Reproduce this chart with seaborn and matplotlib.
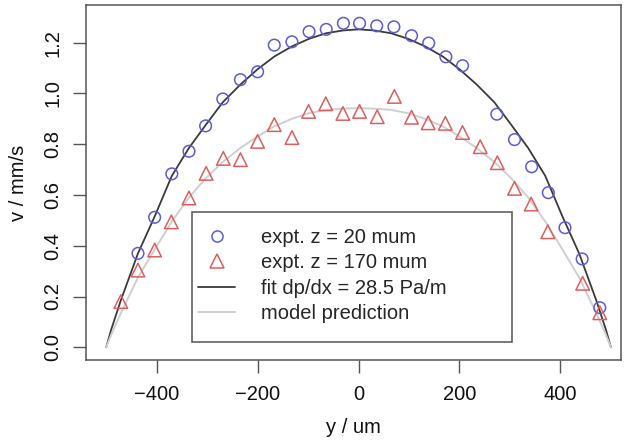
import matplotlib
matplotlib.use("Agg")
import matplotlib.pyplot as plt
from matplotlib.patches import Rectangle
from matplotlib.lines import Line2D
import seaborn as sns
import pandas as pd

# ---- data ----
y_z20 = [-437, -404, -370, -336, -303, -269, -234, -200, -167, -132, -98, -64, -30, 2,
         36, 70, 105, 139, 173, 206, 274, 309, 343, 376, 409, 443, 478]
v_z20 = [0.370, 0.512, 0.683, 0.772, 0.872, 0.978, 1.054, 1.085, 1.190, 1.203, 1.243,
         1.252, 1.276, 1.276, 1.266, 1.262, 1.227, 1.198, 1.144, 1.109, 0.918, 0.818,
         0.711, 0.609, 0.471, 0.348, 0.156]

y_z170 = [-471, -437, -404, -371, -336, -302, -268, -234, -200, -167, -132, -99, -65, -31,
          2, 37, 71, 105, 138, 172, 206, 241, 275, 309, 342, 375, 444, 478]
v_z170 = [0.180, 0.304, 0.383, 0.494, 0.588, 0.685, 0.744, 0.739, 0.811, 0.877, 0.826,
          0.929, 0.959, 0.921, 0.929, 0.908, 0.988, 0.906, 0.884, 0.882, 0.846, 0.790,
          0.727, 0.626, 0.564, 0.455, 0.252, 0.136]

y_curve = [-500, -490, -471, -437, -404, -370, -336, -303, -269, -234, -200, -167, -132,
           -98, -64, -30, 0, 30, 64, 98, 132, 167, 200, 234, 269, 303, 336, 370, 404,
           437, 471, 490, 500]
v_fit = [0.0, 0.07, 0.185, 0.37, 0.515, 0.675, 0.785, 0.875, 0.965, 1.035, 1.095, 1.145,
         1.185, 1.215, 1.237, 1.248, 1.252, 1.248, 1.237, 1.215, 1.185, 1.145, 1.095,
         1.035, 0.965, 0.875, 0.785, 0.675, 0.515, 0.37, 0.185, 0.07, 0.0]
v_model = [0.0, 0.05, 0.135, 0.275, 0.385, 0.495, 0.59, 0.665, 0.73, 0.785, 0.83, 0.87,
           0.90, 0.922, 0.935, 0.94, 0.942, 0.94, 0.935, 0.922, 0.90, 0.87, 0.83, 0.785,
           0.73, 0.665, 0.59, 0.495, 0.385, 0.275, 0.135, 0.05, 0.0]

x_ticks = [-400, -200, 0, 200, 400]
y_ticks = [0.0, 0.2, 0.4, 0.6, 0.8, 1.0, 1.2]
y_ticklabels = ["0.0", "0.2", "0.4", "0.6", "0.8", "1.0", "1.2"]
labels = ["expt. z = 20 mum", "expt. z = 170 mum", "fit dp/dx = 28.5 Pa/m", "model prediction"]

# ---- style ----
sns.set_theme(style="white")
plt.rcParams["font.family"] = ["Liberation Sans", "DejaVu Sans"]
FS = 14.5
BLUE = "#5b5bd8"
RED = "#dc5f5f"
DARK = "#3a3a3a"
LIGHT = "#cfcfcf"
EDGE = "#555555"

W, H = 624, 443
fig = plt.figure(figsize=(W / 100, H / 100), dpi=100)
L, R, T, B = 86, 621, 5, 360
ax = fig.add_axes([L / W, (H - B) / H, (R - L) / W, (B - T) / H])

df_curve = pd.DataFrame({"y": y_curve, "fit": v_fit, "model": v_model})
sns.lineplot(data=df_curve, x="y", y="fit", ax=ax, color=DARK, lw=1.3,
             estimator=None, sort=False)
sns.lineplot(data=df_curve, x="y", y="model", ax=ax, color=LIGHT, lw=1.4,
             estimator=None, sort=False)

df20 = pd.DataFrame({"y": y_z20, "v": v_z20})
df170 = pd.DataFrame({"y": y_z170, "v": v_z170})
sns.scatterplot(data=df20, x="y", y="v", ax=ax, marker="o", s=70,
                facecolors="none", edgecolor=BLUE, linewidth=1.1, zorder=3)
sns.scatterplot(data=df170, x="y", y="v", ax=ax, marker="^", s=95,
                facecolors="none", edgecolor=RED, linewidth=1.1, zorder=3)

ax.set_xlim(-540, 520)
ax.set_ylim(-0.05, 1.348)
ax.set_xticks(x_ticks)
ax.set_yticks(y_ticks)
ax.set_yticklabels(y_ticklabels)
ax.tick_params(axis="both", direction="out", length=9.5, width=1.0, color=EDGE,
               labelsize=FS, labelcolor="#111111", bottom=True, left=True)
ax.tick_params(axis="x", pad=8.5)
ax.tick_params(axis="y", pad=7.5)
for lab in ax.get_yticklabels():
    lab.set_rotation(90)
    lab.set_va("center")
    lab.set_ha("right")
for s in ax.spines.values():
    s.set_color(EDGE)
    s.set_linewidth(1.1)

ax.set_xlabel("y / um", fontsize=FS, color="#111111", labelpad=10)
ax.set_ylabel("v / mm/s", fontsize=FS, color="#111111", labelpad=11)

# legend
handles = [
    Line2D([], [], ls="none", marker="o", ms=8, mfc="none", mec=BLUE, mew=1.1),
    Line2D([], [], ls="none", marker="^", ms=10, mfc="none", mec=RED, mew=1.1),
    Line2D([], [], color=DARK, lw=1.3),
    Line2D([], [], color=LIGHT, lw=1.4),
]
def ax_frac(px, py):
    return (px - L) / (R - L), (B - py) / (B - T)
x0, y0 = ax_frac(192, 342)
x1, y1 = ax_frac(512, 212)
ax.add_patch(Rectangle((x0, y0), x1 - x0, y1 - y0, transform=ax.transAxes,
                       fill=False, edgecolor=EDGE, lw=1.1, zorder=4))
lx, ly = ax_frac(198, 228)
ax.legend(handles, labels, loc="upper left", bbox_to_anchor=(lx, ly),
          frameon=False, borderpad=0, borderaxespad=0, fontsize=FS,
          handlelength=1.85, handletextpad=1.3, labelspacing=0.32)

fig.savefig("out.png", dpi=100)
